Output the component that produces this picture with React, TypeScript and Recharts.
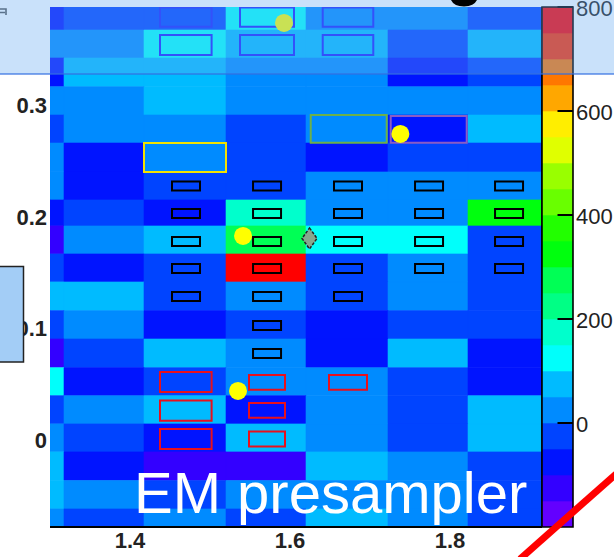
import React from 'react';
import { ComposedChart, XAxis, YAxis, ReferenceArea, ReferenceLine, Scatter } from 'recharts';

const FONT = '"Liberation Sans", Arial, Helvetica, sans-serif';

// Pseudorapidity bin edges (columns, left to right)
const etaEdges = [1.3, 1.3175, 1.4175, 1.52, 1.62, 1.7225, 1.8225, 1.915];
// Azimuthal bin edges (rows, top to bottom)
const phiEdges = [
  0.388, 0.3674, 0.3423, 0.3166, 0.2912, 0.2661, 0.2402, 0.2151, 0.1918, 0.1667,
  0.1416, 0.1159, 0.0905, 0.0648, 0.0397, 0.0144, -0.0107, -0.0364, -0.0618, -0.078,
];

// Presampler cell energies, one row per phi bin (top to bottom), one entry per eta bin
const cellEnergy: number[][] = [
  [-80, -20, -30, 130, 30, 20, -20],
  [30, 20, 120, 80, 60, -20, 80],
  [-70, 80, 70, 30, 20, -80, -30],
  [20, 30, 80, 30, 20, 30, 20],
  [-30, 30, 20, -20, 30, -70, 90],
  [30, -80, 30, -30, -60, -20, -30],
  [20, -70, -10, -20, 30, 20, 30],
  [-60, -20, -80, 170, 40, 30, 330],
  [-120, 30, 80, 280, 130, 120, -30],
  [-20, -70, -30, 770, -20, 30, -30],
  [80, 70, -30, 30, -20, 30, -20],
  [-30, 30, -70, -20, -80, -20, -30],
  [-130, -20, 80, 20, -70, 70, -80],
  [130, -80, -30, 30, 20, -20, -70],
  [-20, 20, 70, -80, 30, -30, 80],
  [30, -30, -80, 90, 20, -20, 70],
  [80, -70, -130, -120, 70, 30, -30],
  [70, 30, -30, 20, 30, 20, -20],
  [20, -30, 30, -20, 80, 20, -30],
];

// Axis ticks
const etaTicks = [1.4, 1.6, 1.8];
const phiTicks = [0, 0.1, 0.2, 0.3];
const zTicks = [0, 200, 400, 600, 800];
const zMin = -200;
const zMax = 800;
const zLevels = 20;

// Rainbow palette, one colour per contour level
const palette = [
  '#6300FF', '#3300FF', '#0014FF', '#0044FF', '#008BFF', '#00BBFF', '#00FFFB', '#00FFCC',
  '#00FF85', '#00FF55', '#00FF0E', '#22FF00', '#69FF00', '#99FF00', '#E0FF00', '#FFEE00',
  '#FFA700', '#FF7700', '#FF3000', '#FF0000',
];

// Trigger-tower cells (centres)
const towerCells = [
  { eta: 1.47, phi: 0.2276 }, { eta: 1.5713, phi: 0.2276 }, { eta: 1.6725, phi: 0.2276 }, { eta: 1.7738, phi: 0.2276 }, { eta: 1.8738, phi: 0.2276 },
  { eta: 1.47, phi: 0.203 }, { eta: 1.5713, phi: 0.203 }, { eta: 1.6725, phi: 0.203 }, { eta: 1.7738, phi: 0.203 }, { eta: 1.8738, phi: 0.203 },
  { eta: 1.47, phi: 0.1779 }, { eta: 1.5713, phi: 0.1779 }, { eta: 1.6725, phi: 0.1779 }, { eta: 1.7738, phi: 0.1779 }, { eta: 1.8738, phi: 0.1779 },
  { eta: 1.47, phi: 0.1537 }, { eta: 1.5713, phi: 0.1537 }, { eta: 1.6725, phi: 0.1537 }, { eta: 1.7738, phi: 0.1537 }, { eta: 1.8738, phi: 0.1537 },
  { eta: 1.47, phi: 0.1286 }, { eta: 1.5713, phi: 0.1286 }, { eta: 1.6725, phi: 0.1286 },
  { eta: 1.5713, phi: 0.1026 },
  { eta: 1.5713, phi: 0.0775 },
];

// Cluster regions [eta1, eta2, phi1, phi2]
const redRegions = [
  [1.4375, 1.502, 0.043, 0.061],
  [1.4375, 1.502, 0.0173, 0.0353],
  [1.4375, 1.502, -0.0081, 0.0099],
  [1.54875, 1.59375, 0.0449, 0.0583],
  [1.54875, 1.59375, 0.0198, 0.0332],
  [1.54875, 1.59375, -0.0058, 0.0076],
  [1.64875, 1.69625, 0.0449, 0.0583],
];
const blueRegions = [
  [1.4375, 1.502, 0.3703, 0.3876],
  [1.5375, 1.605, 0.3703, 0.3876],
  [1.6409, 1.7041, 0.3703, 0.3876],
  [1.4375, 1.502, 0.345, 0.3629],
  [1.5375, 1.605, 0.345, 0.3629],
  [1.6409, 1.7041, 0.345, 0.3629],
];
const yellowRegion = [1.4175, 1.52, 0.2402, 0.2661];
const greenRegion = [1.6259, 1.7209, 0.2664, 0.2912];
const purpleRegion = [1.7259, 1.8209, 0.2664, 0.2903];

// Reconstructed objects
const clusterPoints = [
  { eta: 1.5925, phi: 0.3737 },
  { eta: 1.738, phi: 0.2742 },
  { eta: 1.5413, phi: 0.1828 },
  { eta: 1.535, phi: 0.0439 },
];
const trackPoints = [{ eta: 1.6244, phi: 0.1806 }];

const levelColor = (z: number) => {
  const k = Math.floor(((z - zMin) / (zMax - zMin)) * zLevels);
  return palette[Math.max(0, Math.min(zLevels - 1, k))];
};

const towerHalfEta = 0.0175;
const towerHalfPhi = 0.004;

const axisTick = { fill: '#222', fontSize: 22, fontWeight: 700, fontFamily: FONT };

function Heatmap() {
  const cells: React.ReactNode[] = [];
  cellEnergy.forEach((row, r) => {
    row.forEach((z, c) => {
      const col = levelColor(z);
      cells.push(
        <ReferenceArea
          key={`c-${r}-${c}`}
          x1={etaEdges[c]}
          x2={etaEdges[c + 1]}
          y1={phiEdges[r + 1]}
          y2={phiEdges[r]}
          fill={col}
          fillOpacity={1}
          stroke={col}
          strokeWidth={0.6}
          ifOverflow="hidden"
        />
      );
    });
  });

  const box = (key: string, b: number[], stroke: string, sw: number) => (
    <ReferenceArea
      key={key}
      x1={b[0]}
      x2={b[1]}
      y1={b[2]}
      y2={b[3]}
      fill="none"
      stroke={stroke}
      strokeWidth={sw}
      ifOverflow="hidden"
    />
  );

  return (
    <ComposedChart width={614} height={557} margin={{ top: 7, right: 72, bottom: 0, left: 0 }}>
      <XAxis
        type="number"
        dataKey="eta"
        domain={[1.3, 1.915]}
        ticks={etaTicks}
        allowDataOverflow
        height={30}
        tickSize={0}
        tickMargin={5}
        tickLine={false}
        interval={0}
        axisLine={{ stroke: '#000', strokeWidth: 2 }}
        tick={axisTick}
        tickFormatter={(v: number) => v.toFixed(1)}
      />
      <YAxis
        type="number"
        dataKey="phi"
        domain={[-0.078, 0.388]}
        ticks={phiTicks}
        allowDataOverflow
        width={50}
        tickSize={0}
        tickMargin={3}
        tickLine={false}
        axisLine={false}
        interval={0}
        tick={axisTick}
        tickFormatter={(v: number) => (v === 0 ? '0' : v.toFixed(1))}
      />
      {cells}
      {towerCells.map((t, i) =>
        box(`t-${i}`, [t.eta - towerHalfEta, t.eta + towerHalfEta, t.phi - towerHalfPhi, t.phi + towerHalfPhi], '#000', 2)
      )}
      {redRegions.map((b, i) => box(`r-${i}`, b, '#e8101c', 2))}
      {blueRegions.map((b, i) => box(`b-${i}`, b, '#1a22ff', 2))}
      {box('yellow', yellowRegion, '#f2e200', 2)}
      {box('green', greenRegion, '#6cb04a', 2)}
      {box('purple', purpleRegion, '#8a5cc4', 2)}
      <ReferenceLine x={1.915} stroke="#000" strokeWidth={1.5} ifOverflow="visible" />
      <Scatter
        data={clusterPoints}
        isAnimationActive={false}
        shape={(p: any) => <circle cx={p.cx} cy={p.cy} r={9} fill="#ffff00" />}
      />
      <Scatter
        data={trackPoints}
        isAnimationActive={false}
        shape={(p: any) => (
          <path
            d={`M${p.cx},${p.cy - 10.5} L${p.cx + 7.5},${p.cy} L${p.cx},${p.cy + 10.5} L${p.cx - 7.5},${p.cy} Z`}
            fill="#86a88e"
            stroke="#222"
            strokeWidth={1.5}
            strokeDasharray="3 1.5"
          />
        )}
      />
    </ComposedChart>
  );
}

function ColorScale() {
  const bands: React.ReactNode[] = [];
  for (let k = 0; k < zLevels; k++) {
    const lo = zMin + (k * (zMax - zMin)) / zLevels;
    const hi = zMin + ((k + 1) * (zMax - zMin)) / zLevels;
    bands.push(
      <ReferenceArea
        key={`z-${k}`}
        x1={0}
        x2={1}
        y1={lo}
        y2={hi}
        fill={palette[k]}
        fillOpacity={1}
        stroke={palette[k]}
        strokeWidth={0.6}
        ifOverflow="hidden"
      />
    );
  }
  return (
    <ComposedChart width={84} height={557} margin={{ top: 7, right: 0, bottom: 30, left: 12 }}>
      <XAxis type="number" dataKey="u" domain={[0, 1]} hide allowDataOverflow />
      <YAxis
        type="number"
        dataKey="z"
        orientation="right"
        domain={[zMin, zMax]}
        ticks={zTicks}
        allowDataOverflow
        width={41}
        tickSize={0}
        tickMargin={3}
        tickLine={false}
        axisLine={false}
        interval={0}
        tick={{ fill: '#222', fontSize: 22, fontWeight: 400, fontFamily: FONT, dy: 1.5 }}
      />
      {bands}
      <ReferenceArea x1={0} x2={1} y1={zMin} y2={zMax} fill="none" stroke="#000" strokeWidth={1.6} ifOverflow="visible" />
      {zTicks.map((t) => (
        <ReferenceLine
          key={`zt-${t}`}
          segment={[{ x: 0.5, y: t }, { x: 1, y: t }]}
          stroke="#000"
          strokeWidth={2}
          ifOverflow="visible"
        />
      ))}
    </ComposedChart>
  );
}

export default function App() {
  return (
    <div style={{ position: 'absolute', left: 0, top: 0, width: 614, height: 557, overflow: 'hidden', background: '#fff', fontFamily: FONT }}>
      <div style={{ position: 'absolute', left: 0, top: 0 }}>
        <Heatmap />
      </div>
      <div style={{ position: 'absolute', left: 530, top: 0 }}>
        <ColorScale />
      </div>
      <svg width={614} height={557} style={{ position: 'absolute', left: 0, top: 0, pointerEvents: 'none' }}>
        <path d="M0,9 H6 V15 M0,12.5 H5" stroke="#555" strokeWidth={1.6} fill="none" />
        <rect x={0} y={0} width={614} height={74} fill="rgb(100,170,240)" fillOpacity={0.35} />
        <rect x={0} y={73} width={614} height={2} fill="rgb(50,110,225)" fillOpacity={0.6} />
        <path d="M451,0 Q454,6.5 464,6.5 Q474,6 477,0 Z" fill="#000" />
        <rect x={-5} y={266.5} width={28.5} height={95.5} fill="#a3cdf6" stroke="#222" strokeWidth={1.5} />
        <text x={134} y={513} fontSize={58} fill="#fff" fontFamily={FONT}>EM presampler</text>
        <line x1={616} y1={474} x2={520} y2={559} stroke="#ff0000" strokeWidth={7} />
      </svg>
    </div>
  );
}
